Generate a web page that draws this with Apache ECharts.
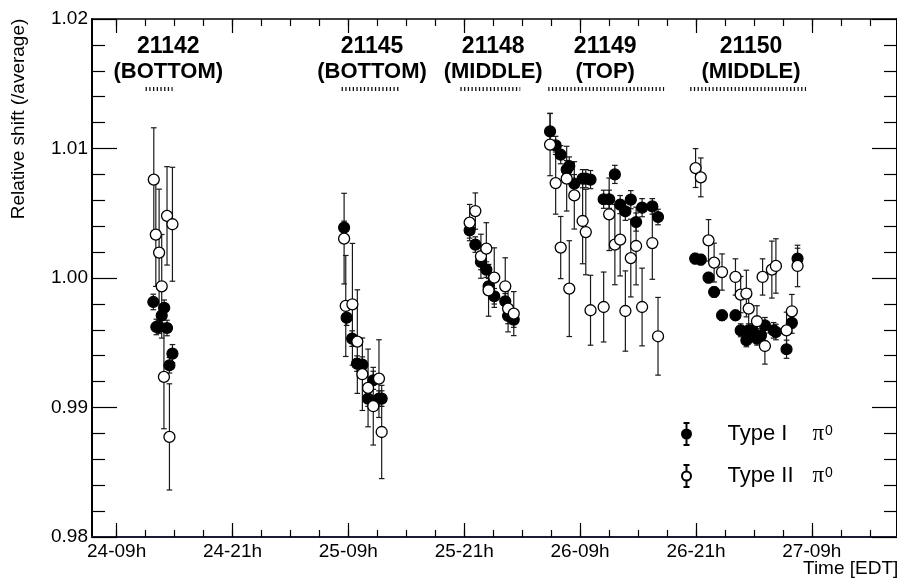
<!DOCTYPE html>
<html>
<head>
<meta charset="utf-8">
<script src="https://cdn.jsdelivr.net/npm/echarts@6/dist/echarts.min.js"></script>
<style>
html, body { margin: 0; padding: 0; background: #fff; }
#main { width: 897px; height: 579px; }
</style>
</head>
<body>
<div id="main"></div>
<script>
'use strict';

// time is in hours after 24-00h (EDT)

// runs written at the top of the frame
const runIds = ['21142', '21145', '21148', '21149', '21150'];
const runTags = ['(BOTTOM)', '(BOTTOM)', '(MIDDLE)', '(TOP)', '(MIDDLE)'];
const runStart = [12.0, 32.3, 44.6, 53.7, 68.4];
const runEnd = [14.8, 38.4, 50.8, 65.7, 80.4];
const runLabelAt = [14.35, 35.45, 48.0, 59.6, 74.7];

// x axis tick labels
const tickHours = [9, 21, 33, 45, 57, 69, 81];
const tickLabels = ['24-09h', '24-21h', '25-09h', '25-21h', '26-09h', '26-21h', '27-09h'];

// Type I pi0 (filled markers)
const timeI = [
	12.80, 13.11, 13.40, 13.67, 13.93, 14.22, 14.47, 14.78,
	32.56, 32.82, 33.39, 33.90, 34.45, 35.04, 35.58, 36.17, 36.45,
	45.56, 46.15, 46.73, 47.29, 47.52, 48.11, 49.25, 49.54, 50.13,
	53.89, 54.47, 54.99, 55.61, 55.88, 56.40, 57.26, 57.59, 58.08, 59.44,
	60.01, 60.60, 61.15, 61.69, 62.25, 62.80, 63.42, 64.48, 65.07,
	68.92, 69.50, 70.30, 70.88, 71.70, 73.09, 73.63, 74.22, 74.46, 74.87,
	75.32, 75.73, 76.14, 77.04, 77.28, 78.38, 78.93, 79.52
];
const valI = [
	0.99815, 0.99622, 0.99622, 0.99710, 0.99770, 0.99614, 0.99326, 0.99416,
	1.00389, 0.99694, 0.99532, 0.99339, 0.99331, 0.99069, 0.99210, 0.99069, 0.99069,
	1.00368, 1.00258, 1.00124, 1.00065, 0.99936, 0.99859, 0.99820, 0.99707, 0.99679,
	1.01132, 1.01024, 1.00952, 1.00837, 1.00865, 1.00729, 1.00767, 1.00767, 1.00760, 1.00608,
	1.00608, 1.00800, 1.00567, 1.00515, 1.00605, 1.00432, 1.00543, 1.00553, 1.00471,
	1.00150, 1.00142, 1.00003, 0.99892, 0.99712, 0.99712, 0.99596, 0.99519, 0.99596, 0.99596,
	0.99532, 0.99558, 0.99635, 0.99596, 0.99583, 0.99450, 0.99653, 1.00150
];
const errI = [
	0.0006, 0.0006, 0.0005, 0.0006, 0.0006, 0.0006, 0.0006, 0.0007,
	0.0005, 0.0006, 0.0006, 0.0006, 0.0006, 0.0006, 0.0007, 0.0006, 0.0006,
	0.0006, 0.0006, 0.0006, 0.0006, 0.0006, 0.0006, 0.0006, 0.0006, 0.0006,
	0.0014, 0.0007, 0.0007, 0.0007, 0.0007, 0.0007, 0.0007, 0.0007, 0.0007, 0.0007,
	0.0007, 0.0007, 0.0007, 0.0007, 0.0007, 0.0007, 0.0007, 0.0006, 0.0006,
	0.0004, 0.0004, 0.0004, 0.0004, 0.0004, 0.0004, 0.0005, 0.0005, 0.0005, 0.0005,
	0.0005, 0.0005, 0.0006, 0.0006, 0.0006, 0.0007, 0.0008, 0.0008
];

// Type II pi0 (open markers)
const timeII = [
	12.85, 13.06, 13.40, 13.67, 13.90, 14.22, 14.47, 14.78,
	32.56, 32.73, 33.42, 33.93, 34.45, 35.04, 35.58, 36.17, 36.45,
	45.56, 46.15, 46.73, 47.29, 47.52, 48.11, 49.25, 49.54, 50.13,
	53.89, 54.47, 54.99, 55.61, 55.88, 56.40, 57.26, 57.59, 58.08, 59.44,
	60.01, 60.60, 61.15, 61.69, 62.25, 62.80, 63.42, 64.48, 65.07,
	68.96, 69.50, 70.30, 70.88, 71.70, 73.09, 73.63, 74.22, 74.46,
	75.32, 75.90, 76.14, 76.86, 77.28, 78.38, 78.93, 79.52
];
const valII = [
	1.00760, 1.00335, 1.00196, 0.99936, 0.99236, 1.00480, 0.98773, 1.00415,
	1.00304, 0.99784, 0.99797, 0.99509, 0.99257, 0.99151, 0.99010, 0.99223, 0.98811,
	1.00428, 1.00517, 1.00168, 1.00227, 0.99905, 1.00003, 0.99936, 0.99764, 0.99725,
	1.01030, 1.00733, 1.00235, 1.00767, 0.99918, 1.00638, 1.00440, 1.00355, 0.99751, 0.99776,
	1.00492, 1.00258, 1.00296, 0.99745, 1.00154, 1.00247, 0.99776, 1.00270, 0.99550,
	1.00849, 1.00777, 1.00291, 1.00119, 1.00046, 1.00008, 0.99872, 0.99880, 0.99764,
	0.99666, 1.00008, 0.99475, 1.00065, 1.00093, 0.99596, 0.99743, 1.00093
];
const errII = [
	0.0040, 0.0040, 0.0049, 0.0040, 0.0040, 0.0038, 0.0041, 0.0044,
	0.0035, 0.0039, 0.0047, 0.0040, 0.0028, 0.0030, 0.0030, 0.0030, 0.0036,
	0.0014, 0.0014, 0.0017, 0.0020, 0.0020, 0.0023, 0.0022, 0.0018, 0.0017,
	0.0024, 0.0024, 0.0024, 0.0025, 0.0037, 0.0026, 0.0033, 0.0033, 0.0027, 0.0027,
	0.0028, 0.0031, 0.0028, 0.0031, 0.0030, 0.0030, 0.0030, 0.0028, 0.0030,
	0.0015, 0.0015, 0.0016, 0.0015, 0.0014, 0.0014, 0.0014, 0.0018, 0.0015,
	0.0012, 0.0014, 0.0014, 0.0022, 0.0021, 0.0014, 0.0013, 0.0016
];

const FONT = '"Liberation Sans", Arial, Helvetica, sans-serif';
const tMin = 6.45;
const tMax = 89.82;
const runMarkY = 1.0146;

// every 3 hours between the ends of the axis
const minorHours = [];
for (let h = 9; h < tMax; h += 3) {
	minorHours.push(h);
}

const myChart = echarts.init(document.getElementById('main'), null, { renderer: 'canvas' });

// vertical error bar with small caps
function renderErr(params, api) {
	const t = api.value(0);
	const v = api.value(1);
	const e = api.value(2);
	const hi = api.coord([t, v + e]);
	const lo = api.coord([t, v - e]);
	const cap = 2.8;
	const st = { stroke: '#1a1a1a', lineWidth: 1.2 };
	return {
		type: 'group',
		children: [
			{ type: 'line', shape: { x1: hi[0], y1: hi[1], x2: lo[0], y2: lo[1] }, style: st },
			{ type: 'line', shape: { x1: hi[0] - cap, y1: hi[1], x2: hi[0] + cap, y2: hi[1] }, style: st },
			{ type: 'line', shape: { x1: lo[0] - cap, y1: lo[1], x2: lo[0] + cap, y2: lo[1] }, style: st }
		]
	};
}

function renderRun(params, api) {
	const i = params.dataIndex;
	const a = api.coord([api.value(0), runMarkY]);
	const b = api.coord([api.value(1), runMarkY]);
	const c = api.coord([api.value(2), runMarkY]);
	return {
		type: 'group',
		children: [
			{
				type: 'line',
				shape: { x1: a[0], y1: a[1], x2: b[0], y2: b[1] },
				style: { stroke: '#111', lineWidth: 4, lineDash: [1.3, 2.4] }
			},
			{
				type: 'text', x: c[0], y: c[1] - 42,
				style: { text: runIds[i], font: 'bold 23px ' + FONT, fill: '#000', align: 'center', verticalAlign: 'middle' }
			},
			{
				type: 'text', x: c[0], y: c[1] - 17,
				style: { text: runTags[i], font: 'bold 22px ' + FONT, fill: '#000', align: 'center', verticalAlign: 'middle' }
			}
		]
	};
}

const axisBase = {
	type: 'value',
	min: tMin,
	max: tMax,
	splitLine: { show: false }
};

const option = {
	animation: false,
	backgroundColor: '#fff',
	grid: { left: 92, top: 19, width: 808, height: 518 },
	xAxis: [
		Object.assign({}, axisBase, {
			position: 'bottom',
			axisLine: { show: true, onZero: false, lineStyle: { color: '#1c1c36', width: 2 } },
			axisTick: { show: true, inside: true, length: 14, customValues: tickHours, lineStyle: { color: '#000', width: 1.2 } },
			axisLabel: {
				customValues: tickHours,
				formatter: function(v) { return tickLabels[tickHours.indexOf(v)]; },
				color: '#000', fontSize: 19, fontFamily: FONT, margin: 5
			}
		}),
		Object.assign({}, axisBase, {
			position: 'bottom',
			axisLine: { show: false, onZero: false },
			axisTick: { show: true, inside: true, length: 7, customValues: minorHours, lineStyle: { color: '#000', width: 1.2 } },
			axisLabel: { show: false }
		}),
		Object.assign({}, axisBase, {
			position: 'top',
			axisLine: { show: true, onZero: false, lineStyle: { color: '#000', width: 1.5 } },
			axisTick: { show: true, inside: true, length: 14, customValues: tickHours, lineStyle: { color: '#000', width: 1.2 } },
			axisLabel: { show: false }
		}),
		Object.assign({}, axisBase, {
			position: 'top',
			axisLine: { show: false, onZero: false },
			axisTick: { show: true, inside: true, length: 7, customValues: minorHours, lineStyle: { color: '#000', width: 1.2 } },
			axisLabel: { show: false }
		})
	],
	yAxis: [
		{
			type: 'value', position: 'left', min: 0.98, max: 1.02, interval: 0.01,
			axisLine: { show: true, onZero: false, lineStyle: { color: '#000', width: 2 } },
			axisTick: { show: true, inside: true, length: 25, lineStyle: { color: '#000', width: 1.2 } },
			minorTick: { show: true, splitNumber: 5, length: 13, lineStyle: { color: '#000', width: 1.2 } },
			axisLabel: {
				formatter: function(v) { return v.toFixed(2); },
				color: '#000', fontSize: 19, fontFamily: FONT, margin: 4
			},
			splitLine: { show: false }
		},
		{
			type: 'value', position: 'right', min: 0.98, max: 1.02, interval: 0.01,
			axisLine: { show: true, onZero: false, lineStyle: { color: '#000', width: 2 } },
			axisTick: { show: true, inside: true, length: 25, lineStyle: { color: '#000', width: 1.2 } },
			minorTick: { show: true, splitNumber: 5, length: 13, lineStyle: { color: '#000', width: 1.2 } },
			axisLabel: { show: false },
			splitLine: { show: false }
		}
	],
	legend: {
		data: ['Type I', 'Type II'],
		orient: 'vertical',
		left: 676,
		top: 417,
		itemWidth: 72,
		itemHeight: 22,
		itemGap: 18,
		selectedMode: false,
		icon: 'path://M2,0L8,0M5,0L5,6.5M5,15.5L5,22M2,22L8,22M0.5,11A4.5,4.5,0,1,0,9.5,11A4.5,4.5,0,1,0,0.5,11Z',
		formatter: function(name) { return '{a|' + name + '}{p|π}{s|0}'; },
		textStyle: {
			rich: {
				a: { fontSize: 22, fontFamily: FONT, color: '#000', width: 85, lineHeight: 22, verticalAlign: 'middle' },
				p: { fontSize: 23, fontFamily: '"Liberation Serif", "DejaVu Serif", serif', color: '#000', lineHeight: 22, verticalAlign: 'middle' },
				s: { fontSize: 14, fontFamily: FONT, color: '#000', lineHeight: 14, verticalAlign: 'top', padding: [1, 0, 0, 1] }
			}
		}
	},
	graphic: [
		{
			type: 'text', x: 19, y: 119, rotation: Math.PI / 2,
			style: { text: 'Relative shift (/average)', font: '19px ' + FONT, fill: '#000', align: 'center', verticalAlign: 'middle' }
		},
		{
			type: 'text', x: 803, y: 569,
			style: { text: 'Time [EDT]', font: '19px ' + FONT, fill: '#000', align: 'left', verticalAlign: 'middle' }
		}
	],
	series: [
		{
			name: 'runs',
			type: 'custom',
			clip: false,
			silent: true,
			renderItem: renderRun,
			encode: { x: [0, 1, 2] },
			data: runIds.map(function(id, i) { return [runStart[i], runEnd[i], runLabelAt[i]]; })
		},
		{
			name: 'errI',
			type: 'custom',
			silent: true,
			renderItem: renderErr,
			encode: { x: 0, y: 1 },
			data: timeI.map(function(t, i) { return [t, valI[i], errI[i]]; })
		},
		{
			name: 'Type I',
			type: 'scatter',
			symbol: 'circle',
			symbolSize: 11,
			itemStyle: { color: '#000', borderColor: '#000', borderWidth: 1.2, opacity: 1 },
			emphasis: { disabled: true },
			data: timeI.map(function(t, i) { return [t, valI[i]]; })
		},
		{
			name: 'errII',
			type: 'custom',
			silent: true,
			renderItem: renderErr,
			encode: { x: 0, y: 1 },
			data: timeII.map(function(t, i) { return [t, valII[i], errII[i]]; })
		},
		{
			name: 'Type II',
			type: 'scatter',
			symbol: 'circle',
			symbolSize: 11,
			itemStyle: { color: '#fff', borderColor: '#000', borderWidth: 1.3, opacity: 1 },
			emphasis: { disabled: true },
			data: timeII.map(function(t, i) { return [t, valII[i]]; })
		}
	]
};

myChart.setOption(option);
</script>
</body>
</html>
